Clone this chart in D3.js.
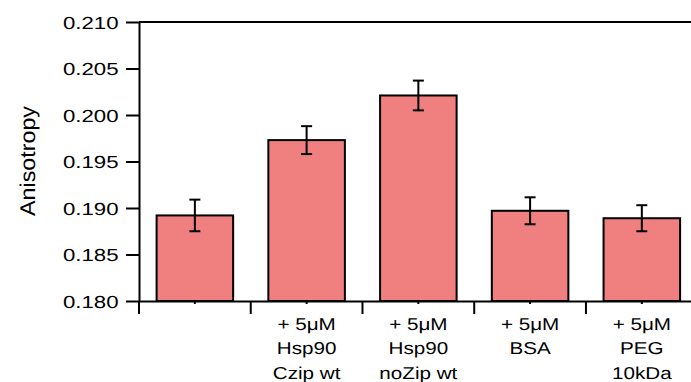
<!DOCTYPE html>
<html>
<head>
<meta charset="utf-8">
<script src="https://cdn.jsdelivr.net/npm/d3@7"></script>
<style>
  body { margin: 0; background: #fff; }
  svg { display: block; font-family: "Liberation Sans", Arial, sans-serif; text-rendering: geometricPrecision; }
  .axis path, .axis line { stroke: #000; stroke-width: 2; }
  .axis text { fill: #000; }
</style>
</head>
<body>
<svg id="chart" width="691" height="382"></svg>
<script>
// data
const categories = ['ctrl', 'hsp90czip', 'hsp90nozip', 'bsa', 'peg'];
const labelLines = [
  [],
  ['+ 5μM', 'Hsp90', 'Czip wt'],
  ['+ 5μM', 'Hsp90', 'noZip wt'],
  ['+ 5μM', 'BSA'],
  ['+ 5μM', 'PEG', '10kDa']
];
const means = [0.1892, 0.1973, 0.2021, 0.1897, 0.1889];
const errors = [0.0017, 0.0015, 0.0016, 0.00145, 0.0014];
const yTicks = [0.180, 0.185, 0.190, 0.195, 0.200, 0.205, 0.210];

const chartWidth = 691;
// plot area
const plotLeft = 139, plotRight = 697.7, plotTop = 22, plotBottom = 301;
const barColor = '#f08080';

const svg = d3.select('#chart');

const x = d3.scaleBand()
  .domain(categories)
  .range([plotLeft, plotRight])
  .paddingInner(0.315)
  .paddingOuter(0.1575);

const y = d3.scaleLinear()
  .domain([0.180, 0.210])
  .range([plotBottom, plotTop]);

const data = categories.map((c, i) => ({cat: c, mean: means[i], err: errors[i], lines: labelLines[i]}));

// bars
svg.append('g')
  .selectAll('rect')
  .data(data)
  .join('rect')
  .attr('x', d => x(d.cat))
  .attr('y', d => y(d.mean))
  .attr('width', x.bandwidth())
  .attr('height', d => y(0.180) - y(d.mean))
  .attr('fill', barColor)
  .attr('stroke', '#000')
  .attr('stroke-width', 2);

// error bars
const capHalf = 5.5;
const err = svg.append('g')
  .attr('stroke', '#000')
  .attr('stroke-width', 2)
  .selectAll('g')
  .data(data)
  .join('g')
  .attr('transform', d => 'translate(' + (x(d.cat) + x.bandwidth() / 2) + ',0)');

err.append('line')
  .attr('y1', d => y(d.mean + d.err))
  .attr('y2', d => y(d.mean - d.err));
err.append('line')
  .attr('x1', -capHalf).attr('x2', capHalf)
  .attr('y1', d => y(d.mean + d.err))
  .attr('y2', d => y(d.mean + d.err));
err.append('line')
  .attr('x1', -capHalf).attr('x2', capHalf)
  .attr('y1', d => y(d.mean - d.err))
  .attr('y2', d => y(d.mean - d.err));

// y axis
const yAxis = d3.axisLeft(y)
  .tickValues(yTicks)
  .tickSize(13)
  .tickSizeOuter(0)
  .tickFormat(d3.format('.3f'));

svg.append('g')
  .attr('class', 'axis')
  .attr('transform', 'translate(' + plotLeft + ',0)')
  .call(yAxis)
  .call(g => g.selectAll('text')
    .attr('x', null)
    .attr('dy', null)
    .attr('font-size', 17.5)
    .attr('font-family', null)
    .attr('transform', 'translate(-20.5,6.3) scale(1.27,1)'));

// top frame line
svg.append('line')
  .attr('x1', plotLeft).attr('x2', chartWidth)
  .attr('y1', y(0.210)).attr('y2', y(0.210))
  .attr('stroke', '#000')
  .attr('stroke-width', 2);

// x axis: small ticks at bar centres
const xAxis = d3.axisBottom(x)
  .tickSize(3)
  .tickSizeOuter(0)
  .tickFormat('');

svg.append('g')
  .attr('class', 'axis')
  .attr('transform', 'translate(0,' + plotBottom + ')')
  .call(xAxis);

// long ticks at category boundaries
const bounds = categories.map(c => x(c) - x.step() * x.paddingInner() / 2);
bounds.push(plotRight);
svg.append('g')
  .selectAll('line')
  .data(bounds)
  .join('line')
  .attr('x1', d => d).attr('x2', d => d)
  .attr('y1', plotBottom).attr('y2', plotBottom + 13)
  .attr('stroke', '#000')
  .attr('stroke-width', 2);

// category labels
const baselines = [329.5, 354, 378.5];
const lbl = svg.append('g')
  .selectAll('g')
  .data(data)
  .join('g')
  .attr('transform', d => 'translate(' + (x(d.cat) + x.bandwidth() / 2) + ',0)');

lbl.selectAll('text')
  .data(d => d.lines)
  .join('text')
  .attr('text-anchor', 'middle')
  .attr('font-size', 17.2)
  .attr('transform', (t, i) => 'translate(0,' + baselines[i] + ') scale(1.2,1)')
  .text(t => t);

// y label
svg.append('text')
  .attr('text-anchor', 'middle')
  .attr('font-size', 17.5)
  .attr('transform', 'translate(34.5,161) rotate(-90) scale(1.33,1.22)')
  .text('Anisotropy');
</script>
</body>
</html>
